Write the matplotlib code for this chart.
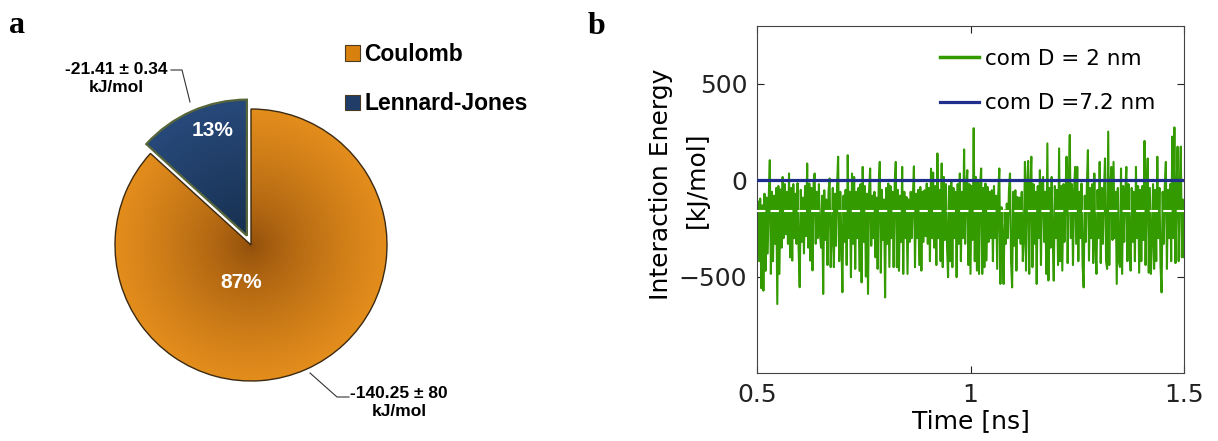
import numpy as np
import matplotlib
matplotlib.use('Agg')
import matplotlib.pyplot as plt
from matplotlib.patches import Patch
from matplotlib.ticker import FormatStrFormatter

# ---------------- data ----------------
components = ['Coulomb', 'Lennard-Jones']
energies = [-140.25, -21.41]          # kJ/mol
errors = [80, 0.34]

time_range = [0.5, 1.5]               # ns
energy_2nm = [
    -180, -110, -420, -95, -560, -130, -573, -70, -470, -90,
    -380, -90, 104, -486, -60, -420, -80, -330, -40, -642,
    -30, -486, -48, -350, 17, -300, -20, -280, -60, -330,
    35, -400, -40, -417, -20, -300, -70, -330, -15, -360,
    -555, -50, -320, -90, -380, -30, -290, 87, -350, -17,
    -417, -40, -468, -17, 35, -330, -60, -300, -20, -280,
    -350, -80, -590, -52, -310, -100, -440, -60, 9, -451,
    -300, -40, -451, -70, -340, -30, 122, -420, -60, -300,
    -581, -80, -320, -50, -440, 130, -300, -60, -503, 35,
    -330, 17, -460, -60, -300, -40, -470, -20, -530, 69,
    -320, -30, -500, -70, -590, -50, 61, -340, -80, -300,
    -60, -400, -90, -460, -30, 95, -480, -50, -310, -100,
    -608, -40, -330, -17, -450, -30, -300, -60, -451, -20,
    95, -451, -50, -470, -80, -320, 69, -486, -60, -300,
    -87, -486, -100, -320, -60, -300, -90, 72, -451, -70,
    -300, -50, -440, -35, -469, -60, -320, -52, -290, -17,
    -330, -40, -420, 60, -300, 40, -350, -30, -440, 139,
    -300, -50, -420, 87, -451, 17, -310, -20, -340, -503,
    -30, -420, 0, -451, -40, -300, -60, -503, -20, -330,
    35, -420, -60, -300, 160, -330, -40, 52, -440, -20,
    -486, -30, -310, 270, -420, 17, -469, 0, -486, -20,
    61, -486, -40, -451, -17, -416, -35, -320, -60, -300,
    -52, -420, -30, -300, -80, -460, -70, 61, -538, -140,
    -300, -538, -156, -330, -121, -300, -52, 35, -420, -556,
    -60, -340, -52, -469, -87, -300, -90, -330, -60, -420,
    -300, 95, -469, -30, 100, -486, -40, 122, -451, -20,
    -330, -60, -538, -30, -300, 52, -440, -20, 17, -320,
    -60, -486, 191, -520, -40, -350, 17, -300, -521, -30,
    -300, -50, -440, 165, -420, -30, -469, -20, -320, -60,
    122, -430, -40, 235, -300, -20, -440, -60, 69, -330,
    69, -420, -60, -300, -17, -440, -556, -80, -320, -30,
    156, -417, -40, -300, -20, -430, 35, -320, -486, -50,
    -300, 95, -430, -40, -330, -60, 113, -420, -460, 252,
    -440, -30, 69, -310, 95, -300, -60, -538, -40, -420,
    -450, 61, -486, -30, -320, -60, 69, -420, -20, -300,
    -469, -40, -320, -60, -420, 69, -300, -30, -480, -50,
    -420, -30, -310, 204, -440, -60, 113, -480, -40, -486,
    -300, -20, -460, -50, -420, 122, -300, -40, -440, -582,
    -60, -330, -30, 95, -460, -50, -300, -20, -420, 226,
    -300, 274, -430, -60, 174, -420, -40, 174, -400, -100, -399,
]
time_7p2nm = [0.5, 1.5]
energy_7p2nm = [0.0, 0.0]

series_labels = ['com D = 2 nm', 'com D =7.2 nm']
x_ticks = [0.5, 1, 1.5]
y_ticks = [-500, 0, 500]

# ---------------- style ----------------
W, H = 1218, 441
fig = plt.figure(figsize=(W / 100, H / 100), dpi=100)

orange = '#d9810f'
navy = '#1f3d68'
bold_sans = ['Liberation Sans', 'DejaVu Sans']

# ---------------- panel a: pie ----------------
cx_px, cy_px, r_px = 251, 245, 136
axp = fig.add_axes([0, 0, 600 / W, 1])
pie_vals = [abs(energies[1]), abs(energies[0])]
wedges, _ = axp.pie(pie_vals, startangle=90, counterclock=True,
                    explode=[0.075, 0.0], colors=[navy, orange],
                    wedgeprops=dict(linewidth=1.0))
xl = (-cx_px / r_px, (600 - cx_px) / r_px)
yl = (-(H - cy_px) / r_px, cy_px / r_px)


def radial_fill(w, dark, light, power=0.8, zo=1):
    cx, cy = w.center
    r = w.r
    n = 300
    xs = np.linspace(cx - r, cx + r, n)
    ys = np.linspace(cy - r, cy + r, n)
    X, Y = np.meshgrid(xs, ys)
    d = np.clip(np.hypot(X - cx, Y - cy) / r, 0, 1) ** power
    dark = np.array(matplotlib.colors.to_rgb(dark))
    light = np.array(matplotlib.colors.to_rgb(light))
    img = dark[None, None, :] * (1 - d[..., None]) + light[None, None, :] * d[..., None]
    im = axp.imshow(img, extent=[cx - r, cx + r, cy - r, cy + r], origin='lower',
                    interpolation='bilinear', zorder=zo)
    im.set_clip_path(w)


w_lj, w_c = wedges
radial_fill(w_c, '#8f4d0b', '#e38d1c', 0.7)
radial_fill(w_lj, '#17304f', '#27497a', 1.0)
w_c.set_facecolor('none'); w_c.set_edgecolor('#3b2a12'); w_c.set_linewidth(1.0); w_c.set_zorder(3)
w_lj.set_facecolor('none'); w_lj.set_edgecolor('#56653a'); w_lj.set_linewidth(1.6); w_lj.set_zorder(3)

axp.set_xlim(*xl)
axp.set_ylim(*yl)
axp.set_aspect('auto')
axp.axis('off')


def P(x, y):
    return ((x - cx_px) / r_px, (cy_px - y) / r_px)


total = sum(pie_vals)
axp.text(*P(213, 131), f'{pie_vals[0] / total * 100:.0f}%', color='white', fontsize=15,
         fontweight='bold', family=bold_sans, ha='center', va='center', zorder=5)
axp.text(*P(241, 283), f'{pie_vals[1] / total * 100:.0f}%', color='white', fontsize=15,
         fontweight='bold', family=bold_sans, ha='center', va='center', zorder=5)

axp.text(*P(116, 79), f'{energies[1]:.2f} \u00b1 {errors[1]:.2f}\nkJ/mol', fontsize=12.5,
         fontweight='bold', family=bold_sans, ha='center', va='center',
         multialignment='center', linespacing=1.25, zorder=5)
axp.text(*P(399, 402), f'{energies[0]:.2f} \u00b1 {errors[0]:g}\nkJ/mol', fontsize=12.5,
         fontweight='bold', family=bold_sans, ha='center', va='center',
         multialignment='center', linespacing=1.25, zorder=5)

lx, ly = zip(P(171, 70), P(182, 70), P(190, 102))
axp.plot(lx, ly, color='#333333', lw=0.8, zorder=6)
lx, ly = zip(P(310, 373), P(337, 397), P(349, 397))
axp.plot(lx, ly, color='#333333', lw=0.8, zorder=6)

handles = [Patch(facecolor=orange, edgecolor='#4a3a20', linewidth=0.8),
           Patch(facecolor=navy, edgecolor='#4a3a20', linewidth=0.8)]
leg = axp.legend(handles, components, loc='upper left',
                 bbox_to_anchor=(345 / 600, 1 - 43 / H), frameon=False,
                 prop=dict(family=bold_sans, weight='bold', size=16.5),
                 handlelength=0.65, handleheight=0.65, handletextpad=0.2,
                 labelspacing=1.15, borderpad=0, borderaxespad=0)

# ---------------- panel b: time series ----------------
ax = fig.add_axes([757 / W, (H - 373) / H, 427 / W, 347 / H])
t2 = np.linspace(time_range[0], time_range[1], len(energy_2nm))
ax.plot(t2, energy_2nm, color='#339a00', lw=1.5, label=series_labels[0], zorder=2)
ax.plot(time_7p2nm, energy_7p2nm, color='#1f2d8c', lw=2.3, label=series_labels[1], zorder=4)
ax.axhline(sum(energies), color='white', lw=1.5, ls=(0, (4, 2.5)), zorder=3)

ax.set_xlim(*time_range)
ax.set_ylim(-1000, 800)
ax.set_xticks(x_ticks)
ax.set_yticks(y_ticks)
ax.xaxis.set_major_formatter(FormatStrFormatter('%g'))
ax.tick_params(direction='in', top=True, right=True, length=5, width=0.8,
               labelsize=18, pad=7, colors='#222222')
for s in ax.spines.values():
    s.set_linewidth(0.8)
    s.set_color('#444444')

ax.set_xlabel('Time [ns]', fontsize=18, labelpad=2)
ax.text(-0.2248, 0.545, 'Interaction Energy', transform=ax.transAxes, rotation=90,
        fontsize=18, ha='center', va='center')
ax.text(-0.1405, 0.556, '[kJ/mol]', transform=ax.transAxes, rotation=90,
        fontsize=18, ha='center', va='center')

leg2 = ax.legend(loc='upper left', bbox_to_anchor=(0.428, 0.935), frameon=False,
                 fontsize=15.5, handlelength=1.8, handletextpad=0.3, labelspacing=1.15,
                 borderpad=0, borderaxespad=0)
leg2.get_lines()[0].set_linewidth(2.5)

# panel letters
fig.text(17 / W, 1 - 33 / H, 'a', fontsize=23, fontweight='bold',
         family=['Liberation Serif', 'DejaVu Serif'], ha='center', va='baseline')
fig.text(597 / W, 1 - 34 / H, 'b', fontsize=23, fontweight='bold',
         family=['Liberation Serif', 'DejaVu Serif'], ha='center', va='baseline')

fig.savefig('out.png', dpi=100)
